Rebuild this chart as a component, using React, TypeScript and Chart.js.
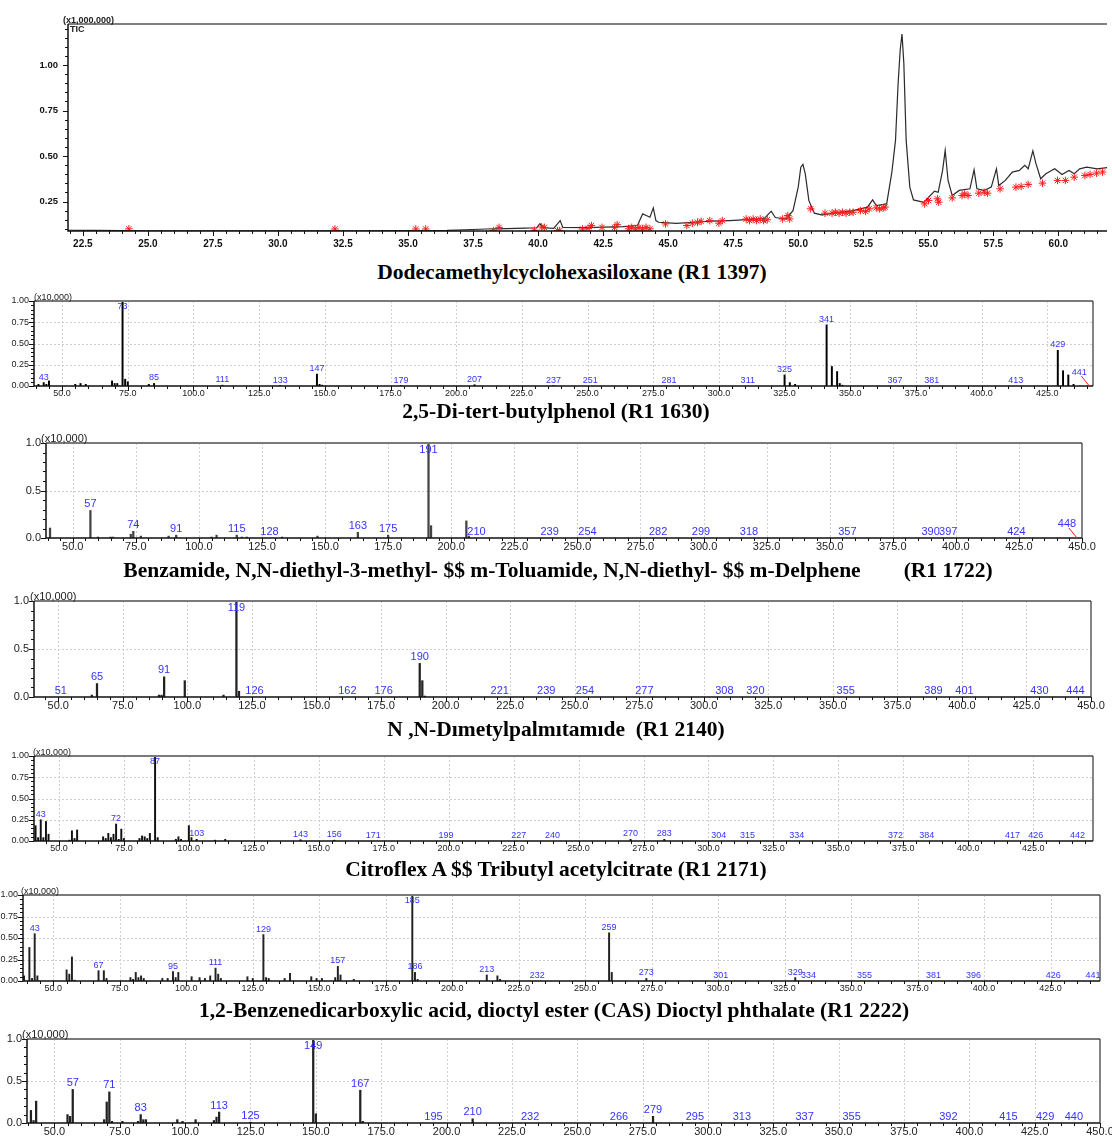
import { useEffect, useRef } from "react";
import { Chart, registerables } from "chart.js";

Chart.register(...registerables);

const W = 1112;

// TIC chromatogram, retention time (min) vs intensity (x1,000,000)
const ticTime = [21.93, 23.0, 24.0, 25.0, 27.0, 29.0, 31.0, 33.0, 35.0, 36.5, 37.2, 38.0, 38.8, 39.5, 39.95, 40.07, 40.2, 40.6, 40.85, 40.95, 41.9, 43.27, 43.82, 44.02, 44.16, 44.3, 44.43, 44.53, 44.63, 45.31, 45.99, 46.67, 47.35, 48.03, 48.71, 48.96, 49.12, 49.53, 49.8, 50.0, 50.1, 50.18, 50.27, 50.41, 50.62, 50.89, 51.43, 52.11, 52.66, 52.86, 53.0, 53.4, 53.6, 53.74, 53.84, 53.92, 53.99, 54.06, 54.15, 54.29, 54.43, 54.83, 55.24, 55.38, 55.55, 55.65, 55.76, 55.92, 56.19, 56.6, 56.76, 56.87, 57.14, 57.42, 57.62, 57.71, 57.96, 58.23, 58.5, 58.71, 58.84, 59.02, 59.14, 59.32, 59.52, 59.86, 60.14, 60.41, 60.61, 60.82, 61.09, 61.5, 61.87];
const ticInt = [0.092, 0.091, 0.09, 0.089, 0.089, 0.089, 0.089, 0.089, 0.09, 0.091, 0.095, 0.099, 0.101, 0.104, 0.106, 0.128, 0.106, 0.103, 0.145, 0.108, 0.107, 0.112, 0.118, 0.182, 0.173, 0.164, 0.215, 0.145, 0.136, 0.13, 0.136, 0.142, 0.145, 0.15, 0.158, 0.197, 0.162, 0.154, 0.2, 0.329, 0.439, 0.454, 0.403, 0.255, 0.186, 0.177, 0.186, 0.2, 0.219, 0.259, 0.228, 0.237, 0.412, 0.586, 0.899, 1.083, 1.171, 1.011, 0.586, 0.329, 0.259, 0.246, 0.307, 0.301, 0.421, 0.531, 0.366, 0.283, 0.311, 0.32, 0.424, 0.32, 0.311, 0.329, 0.43, 0.338, 0.366, 0.412, 0.421, 0.449, 0.43, 0.528, 0.458, 0.375, 0.403, 0.43, 0.399, 0.421, 0.403, 0.43, 0.439, 0.43, 0.436];
const ticMarkTime = [24.27, 32.19, 35.3, 35.68, 38.29, 38.5, 39.86, 40.14, 40.24, 40.75, 40.83, 41.71, 41.92, 42.05, 42.46, 42.94, 43.04, 43.48, 43.6, 43.75, 43.88, 44.02, 44.15, 44.3, 44.9, 45.72, 45.93, 46.13, 46.27, 46.6, 46.95, 47.08, 48.0, 48.13, 48.27, 48.4, 48.54, 48.67, 48.81, 49.4, 49.6, 49.67, 50.48, 51.03, 51.3, 51.43, 51.57, 51.7, 51.84, 51.98, 52.11, 52.39, 52.59, 52.73, 53.0, 53.13, 53.27, 53.34, 54.86, 55.01, 55.35, 55.4, 55.92, 56.3, 56.4, 56.53, 56.94, 57.15, 57.28, 57.76, 58.37, 58.57, 58.84, 59.39, 59.97, 60.27, 60.61, 61.02, 61.22, 61.47, 61.7];
const ticMarkInt = [0.1, 0.099, 0.099, 0.099, 0.09, 0.108, 0.092, 0.11, 0.108, 0.09, 0.09, 0.099, 0.103, 0.118, 0.108, 0.108, 0.123, 0.1, 0.108, 0.1, 0.108, 0.1, 0.108, 0.1, 0.127, 0.118, 0.131, 0.136, 0.141, 0.145, 0.131, 0.145, 0.154, 0.145, 0.154, 0.145, 0.154, 0.145, 0.15, 0.154, 0.173, 0.154, 0.21, 0.186, 0.186, 0.191, 0.186, 0.191, 0.186, 0.191, 0.191, 0.2, 0.196, 0.21, 0.215, 0.21, 0.215, 0.22, 0.237, 0.256, 0.265, 0.246, 0.27, 0.283, 0.292, 0.283, 0.296, 0.301, 0.296, 0.32, 0.329, 0.333, 0.344, 0.351, 0.366, 0.366, 0.384, 0.393, 0.399, 0.406, 0.412];
const ticXTicks = [22.5, 25.0, 27.5, 30.0, 32.5, 35.0, 37.5, 40.0, 42.5, 45.0, 47.5, 50.0, 52.5, 55.0, 57.5, 60.0];
const ticYTicks = [0.25, 0.5, 0.75, 1.0];

// mass spectra, m/z vs intensity (x10,000)
const mzTicks = [50, 75, 100, 125, 150, 175, 200, 225, 250, 275, 300, 325, 350, 375, 400, 425, 450];
const yTicksQuarter = [0, 0.25, 0.5, 0.75, 1.0];
const yTicksHalf = [0, 0.5, 1.0];

const spec1Mz = [41, 43, 44, 45, 55, 57, 59, 69, 70, 71, 73, 74, 75, 83, 85, 111, 133, 147, 148, 149, 179, 207, 237, 325, 327, 329, 341, 343, 345, 346, 347, 429, 431, 433, 435];
const spec1Int = [0.02, 0.04, 0.02, 0.06, 0.02, 0.03, 0.02, 0.06, 0.03, 0.03, 1.0, 0.08, 0.05, 0.02, 0.03, 0.01, 0.005, 0.14, 0.02, 0.01, 0.005, 0.015, 0.005, 0.13, 0.04, 0.02, 0.72, 0.23, 0.17, 0.03, 0.01, 0.42, 0.18, 0.13, 0.02];
const spec1Labels = [43, 73, 85, 111, 133, 147, 179, 207, 237, 251, 281, 311, 325, 341, 367, 381, 413, 429, 441];

const spec2Mz = [41, 57, 60, 65, 66, 73, 74, 77, 88, 91, 105, 107, 115, 117, 119, 133, 147, 163, 175, 191, 192, 206, 207];
const spec2Int = [0.105, 0.29, 0.01, 0.01, 0.01, 0.04, 0.07, 0.02, 0.02, 0.03, 0.01, 0.03, 0.03, 0.01, 0.01, 0.01, 0.02, 0.06, 0.03, 1.0, 0.13, 0.18, 0.02];
const spec2Labels = [57, 74, 91, 115, 128, 163, 175, 191, 210, 239, 254, 282, 299, 318, 357, 390, 397, 424, 448];

const spec3Mz = [63, 65, 89, 90, 91, 99, 114, 119, 120, 190, 191, 192];
const spec3Int = [0.02, 0.14, 0.02, 0.02, 0.21, 0.17, 0.02, 1.0, 0.06, 0.35, 0.17, 0.01];
const spec3Labels = [51, 65, 91, 119, 126, 162, 176, 190, 221, 239, 254, 277, 308, 320, 355, 389, 401, 430, 444];

const spec4Mz = [41, 42, 43, 44, 45, 46, 54, 55, 56, 57, 67, 68, 69, 70, 71, 72, 73, 74, 75, 81, 82, 83, 84, 85, 87, 88, 95, 96, 97, 100, 101, 103, 110, 114, 143, 156, 270, 283];
const spec4Int = [0.18, 0.04, 0.25, 0.04, 0.23, 0.08, 0.01, 0.12, 0.03, 0.13, 0.05, 0.03, 0.09, 0.04, 0.08, 0.2, 0.02, 0.14, 0.03, 0.03, 0.06, 0.05, 0.03, 0.09, 1.0, 0.04, 0.02, 0.05, 0.02, 0.18, 0.04, 0.02, 0.01, 0.02, 0.015, 0.01, 0.02, 0.02];
const spec4Labels = [43, 72, 87, 103, 143, 156, 171, 199, 227, 240, 270, 283, 304, 315, 334, 372, 384, 417, 426, 442];

const spec5Mz = [39, 41, 42, 43, 44, 55, 56, 57, 58, 67, 69, 70, 79, 80, 81, 82, 83, 84, 91, 93, 95, 96, 97, 102, 105, 107, 109, 111, 112, 113, 123, 125, 129, 130, 131, 137, 139, 147, 149, 151, 156, 157, 158, 163, 185, 186, 187, 213, 217, 218, 259, 260, 273, 329];
const spec5Int = [0.06, 0.39, 0.03, 0.55, 0.06, 0.13, 0.08, 0.28, 0.01, 0.12, 0.12, 0.03, 0.04, 0.02, 0.1, 0.04, 0.06, 0.03, 0.03, 0.03, 0.11, 0.04, 0.1, 0.05, 0.04, 0.03, 0.06, 0.15, 0.08, 0.03, 0.05, 0.03, 0.54, 0.04, 0.03, 0.03, 0.09, 0.05, 0.03, 0.03, 0.04, 0.17, 0.07, 0.02, 1.0, 0.1, 0.02, 0.07, 0.06, 0.02, 0.56, 0.1, 0.03, 0.04];
const spec5Labels = [43, 67, 95, 111, 129, 157, 185, 186, 213, 232, 259, 273, 301, 329, 334, 355, 381, 396, 426, 441];

const spec6Mz = [41, 42, 43, 55, 56, 57, 69, 70, 71, 72, 76, 82, 83, 84, 85, 97, 99, 104, 111, 112, 113, 125, 149, 150, 167, 168, 210, 279];
const spec6Int = [0.15, 0.03, 0.26, 0.1, 0.08, 0.4, 0.04, 0.25, 0.37, 0.02, 0.02, 0.02, 0.1, 0.04, 0.04, 0.04, 0.02, 0.04, 0.03, 0.07, 0.13, 0.01, 1.0, 0.11, 0.39, 0.02, 0.05, 0.08];
const spec6Labels = [57, 71, 83, 113, 125, 149, 167, 195, 210, 232, 266, 279, 295, 313, 337, 355, 392, 415, 429, 440];

const title1 = "Dodecamethylcyclohexasiloxane (R1 1397)";
const title2 = "2,5-Di-tert-butylphenol (R1 1630)";
const title3 = "Benzamide, N,N-diethyl-3-methyl- $$ m-Toluamide, N,N-diethyl- $$ m-Delphene        (R1 1722)";
const title4 = "N ,N-Dımetylpalmıtamıde  (R1 2140)";
const title5 = "Citroflex A $$ Tributyl acetylcitrate (R1 2171)";
const title6 = "1,2-Benzenedicarboxylic acid, dioctyl ester (CAS) Dioctyl phthalate (R1 2222)";

const FONT = "Arial, 'Liberation Sans', sans-serif";

// draws grid, tick marks, frame, peak labels and unit text
const decor = {
  id: "decor",
  beforeDatasetsDraw(chart: any, _a: any, o: any) {
    if (!o.grid) return;
    const { ctx, chartArea: a, scales } = chart;
    const x = scales.x, y = scales.y;
    ctx.save();
    ctx.strokeStyle = "#cfcfcf";
    ctx.lineWidth = 1;
    ctx.setLineDash([2, 2]);
    ctx.beginPath();
    o.xTicks.forEach((v: number) => {
      if (v <= x.min || v >= x.max - 0.5) return;
      const px = Math.round(x.getPixelForValue(v)) + 0.5;
      ctx.moveTo(px, a.top);
      ctx.lineTo(px, a.bottom);
    });
    o.yTicks.forEach((v: number) => {
      if (v <= y.min || v >= y.max) return;
      const py = Math.round(y.getPixelForValue(v)) + 0.5;
      ctx.moveTo(a.left, py);
      ctx.lineTo(a.right, py);
    });
    ctx.stroke();
    ctx.restore();
  },
  afterDatasetsDraw(chart: any, _a: any, o: any) {
    const { ctx, chartArea: a, scales } = chart;
    const x = scales.x, y = scales.y;
    ctx.save();
    // tick marks
    ctx.strokeStyle = "#111";
    ctx.lineWidth = 1;
    ctx.beginPath();
    for (let k = Math.ceil(x.min / o.xMinor - 1e-6); k * o.xMinor <= x.max + 1e-6; k++) {
      const v = k * o.xMinor;
      const major = o.xTicks.some((t: number) => Math.abs(t - v) < o.xMinor / 10);
      const px = Math.round(x.getPixelForValue(v)) + 0.5;
      ctx.moveTo(px, a.bottom);
      ctx.lineTo(px, a.bottom + (major ? 5 : 3));
    }
    for (let k = Math.ceil(y.min / o.yMinor - 1e-6); k * o.yMinor <= y.max + 1e-6; k++) {
      const v = k * o.yMinor;
      const major = o.yTicks.some((t: number) => Math.abs(t - v) < o.yMinor / 10);
      const py = Math.round(y.getPixelForValue(v)) + 0.5;
      ctx.moveTo(a.left, py);
      ctx.lineTo(a.left - (major ? 5 : 3), py);
    }
    ctx.stroke();
    // frame
    ctx.strokeStyle = o.frameColor;
    ctx.lineWidth = o.frameWidth;
    ctx.beginPath();
    ctx.moveTo(a.left, a.top);
    ctx.lineTo(a.right, a.top);
    ctx.stroke();
    if (o.rightFrame) {
      ctx.strokeStyle = "#333";
      ctx.lineWidth = 1.2;
      ctx.beginPath();
      ctx.moveTo(a.right, a.top);
      ctx.lineTo(a.right, a.bottom);
      ctx.stroke();
    }
    // axes
    ctx.strokeStyle = "#111";
    ctx.lineWidth = 1.5;
    ctx.beginPath();
    ctx.moveTo(a.left, a.top);
    ctx.lineTo(a.left, a.bottom);
    ctx.lineTo(a.right, a.bottom);
    ctx.stroke();
    // peak labels
    if (o.peaks) {
      const fs = o.peakFont;
      ctx.font = `${fs}px ${FONT}`;
      ctx.textAlign = "center";
      ctx.textBaseline = "bottom";
      o.peaks.labels.forEach((m: number) => {
        const i = o.peaks.mz.indexOf(m);
        const val = i >= 0 ? o.peaks.inten[i] : 0;
        const px = x.getPixelForValue(m);
        ctx.fillStyle = "#3333ff";
        if (m === o.leader) {
          const lx = px - 10, ly = a.bottom - 9;
          ctx.fillText(String(m), lx, ly);
          ctx.strokeStyle = "#ff1a1a";
          ctx.lineWidth = 1;
          ctx.beginPath();
          ctx.moveTo(lx + 2, ly - 1);
          ctx.lineTo(px, a.bottom);
          ctx.stroke();
          return;
        }
        const py = Math.max(y.getPixelForValue(val) - 1, a.top + fs + 1);
        ctx.fillText(String(m), px, py);
      });
    }
    // unit text
    ctx.fillStyle = "#222";
    ctx.font = `${o.unitBold ? "bold " : ""}${o.unitFont}px ${FONT}`;
    ctx.textAlign = "left";
    ctx.textBaseline = "bottom";
    ctx.fillText(o.unit, o.unitX, a.top + 1);
    if (o.tag) {
      ctx.textBaseline = "top";
      ctx.fillText(o.tag, a.left + 2, a.top + 1);
    }
    ctx.restore();
  },
};

const ticConfig = (): any => {
  const top = 0, height = 258, left = 68, areaTop = 24, areaBottom = 231;
  return {
    type: "line",
    data: {
      datasets: [
        {
          data: ticMarkTime.map((t, i) => ({ x: t, y: ticMarkInt[i] })),
          showLine: false,
          pointStyle: "star",
          pointRadius: 3.8,
          pointBorderWidth: 1,
          borderColor: "#ff1a1a",
          backgroundColor: "#ff1a1a",
        },
        {
          data: ticTime.map((t, i) => ({ x: t, y: ticInt[i] })),
          borderColor: "#2a2a2a",
          borderWidth: 1.2,
          pointRadius: 0,
          tension: 0,
          fill: false,
        },
      ],
    },
    options: {
      animation: false,
      responsive: false,
      events: [],
      layout: { padding: { top: areaTop - top, right: 0, left: 0, bottom: 0 } },
      plugins: {
        legend: { display: false },
        tooltip: { enabled: false },
        decor: {
          grid: false,
          xTicks: ticXTicks,
          yTicks: ticYTicks,
          xMinor: 0.5,
          yMinor: 0.05,
          frameColor: "#555",
          frameWidth: 1.5,
          rightFrame: false,
          unit: "(x1,000,000)",
          unitX: 63,
          unitFont: 9,
          unitBold: true,
          tag: "TIC",
        },
      },
      scales: {
        x: {
          type: "linear",
          min: 21.93,
          max: 61.87,
          grid: { display: false, drawTicks: false },
          border: { display: false },
          afterBuildTicks: (s: any) => {
            s.ticks = ticXTicks.map((v) => ({ value: v }));
          },
          afterFit: (s: any) => {
            s.height = top + height - areaBottom;
            s.paddingLeft = 0;
            s.paddingRight = 0;
          },
          ticks: {
            autoSkip: false,
            maxRotation: 0,
            padding: 7,
            color: "#111",
            font: { family: FONT, size: 10, weight: "bold" },
            callback: (v: any) => Number(v).toFixed(1),
          },
        },
        y: {
          min: 0.088,
          max: 1.226,
          grid: { display: false, drawTicks: false },
          border: { display: false },
          afterBuildTicks: (s: any) => {
            s.ticks = ticYTicks.map((v) => ({ value: v }));
          },
          afterFit: (s: any) => {
            s.width = left;
            s.paddingTop = 0;
            s.paddingBottom = 0;
          },
          ticks: {
            padding: 10,
            color: "#111",
            font: { family: FONT, size: 9.5, weight: "bold" },
            callback: (v: any) => Number(v).toFixed(2),
          },
        },
      },
    },
    plugins: [decor],
  };
};

type SpecLayout = {
  top: number;
  height: number;
  left: number;
  right: number;
  areaTop: number;
  areaBottom: number;
  xMin: number;
  xMax: number;
  big: boolean;
  unitX: number;
  barColor: string;
  leader?: number;
};

const spectrumConfig = (mz: number[], inten: number[], labels: number[], yTicks: number[], L: SpecLayout): any => {
  const quarter = yTicks.length > 3;
  const fs = L.big ? 11 : 9;
  return {
    type: "bar",
    data: {
      datasets: [
        {
          data: mz.map((m, i) => ({ x: m, y: inten[i] })),
          backgroundColor: L.barColor,
          barThickness: L.big ? 1.6 : 1.3,
          borderWidth: 0,
        },
      ],
    },
    options: {
      animation: false,
      responsive: false,
      events: [],
      layout: { padding: { top: L.areaTop - L.top, right: W - L.right, left: 0, bottom: 0 } },
      plugins: {
        legend: { display: false },
        tooltip: { enabled: false },
        decor: {
          grid: true,
          xTicks: mzTicks,
          yTicks,
          xMinor: 5,
          yMinor: quarter ? 0.05 : 0.1,
          frameColor: "#7a7a7a",
          frameWidth: 2,
          rightFrame: true,
          unit: "(x10,000)",
          unitX: L.unitX,
          unitFont: L.big ? 11 : 9,
          unitBold: false,
          peaks: { mz, inten, labels },
          peakFont: L.big ? 11 : 9,
          leader: L.leader,
        },
      },
      scales: {
        x: {
          type: "linear",
          min: L.xMin,
          max: L.xMax,
          offset: false,
          grid: { display: false, drawTicks: false, offset: false },
          border: { display: false },
          afterBuildTicks: (s: any) => {
            s.ticks = mzTicks.filter((v) => v >= L.xMin && v <= L.xMax).map((v) => ({ value: v }));
          },
          afterFit: (s: any) => {
            s.height = L.top + L.height - L.areaBottom;
            s.paddingLeft = 0;
            s.paddingRight = 0;
          },
          ticks: {
            autoSkip: false,
            maxRotation: 0,
            padding: 2,
            color: "#222",
            font: { family: FONT, size: fs },
            callback: (v: any) => Number(v).toFixed(1),
          },
        },
        y: {
          min: 0,
          max: 1,
          grid: { display: false, drawTicks: false },
          border: { display: false },
          afterBuildTicks: (s: any) => {
            s.ticks = yTicks.map((v) => ({ value: v }));
          },
          afterFit: (s: any) => {
            s.width = L.left;
            s.paddingTop = 0;
            s.paddingBottom = 0;
          },
          ticks: {
            padding: 5,
            color: "#222",
            font: { family: FONT, size: fs },
            callback: (v: any) => Number(v).toFixed(quarter ? 2 : 1),
          },
        },
      },
    },
    plugins: [decor],
  };
};

const ChartCanvas = ({ top, height, build }: { top: number; height: number; build: () => any }) => {
  const ref = useRef<HTMLCanvasElement>(null);
  useEffect(() => {
    if (!ref.current) return;
    const chart = new Chart(ref.current, build());
    return () => chart.destroy();
  }, []);
  return (
    <canvas
      ref={ref}
      width={W}
      height={height}
      style={{ position: "absolute", left: 0, top, width: W, height }}
    />
  );
};

const Title = ({ text, cy, cx }: { text: string; cy: number; cx: number }) => (
  <div
    style={{
      position: "absolute",
      top: cy - 13,
      left: cx - W / 2,
      width: W,
      lineHeight: "26px",
      textAlign: "center",
      whiteSpace: "pre",
      fontFamily: "'Liberation Serif', 'Times New Roman', serif",
      fontWeight: "bold",
      fontSize: 21.5,
      color: "#000",
    }}
  >
    {text}
  </div>
);

const L1: SpecLayout = { top: 290, height: 110, left: 34, right: 1093, areaTop: 301, areaBottom: 386, xMin: 39.3, xMax: 442.4, big: false, unitX: 34, barColor: "#000", leader: 441 };
const L2: SpecLayout = { top: 430, height: 125, left: 46, right: 1082, areaTop: 443, areaBottom: 538, xMin: 39.4, xMax: 450, big: true, unitX: 41, barColor: "#444", leader: 448 };
const L3: SpecLayout = { top: 590, height: 125, left: 34, right: 1091, areaTop: 601, areaBottom: 697, xMin: 40.6, xMax: 450, big: true, unitX: 30, barColor: "#222" };
const L4: SpecLayout = { top: 745, height: 110, left: 34, right: 1093, areaTop: 756, areaBottom: 841, xMin: 40.4, xMax: 448, big: false, unitX: 33, barColor: "#111" };
const L5: SpecLayout = { top: 885, height: 112, left: 23, right: 1100, areaTop: 895, areaBottom: 981, xMin: 38.6, xMax: 443.6, big: false, unitX: 21, barColor: "#222" };
const L6: SpecLayout = { top: 1027, height: 110, left: 27, right: 1100, areaTop: 1039, areaBottom: 1123, xMin: 39.5, xMax: 450, big: true, unitX: 22, barColor: "#222" };

export default function App() {
  return (
    <div style={{ position: "absolute", left: 0, top: 0, width: W, height: 1137, background: "#fff", overflow: "hidden" }}>
      <ChartCanvas top={0} height={258} build={ticConfig} />
      <Title text={title1} cy={272} cx={572} />
      <ChartCanvas top={L1.top} height={L1.height} build={() => spectrumConfig(spec1Mz, spec1Int, spec1Labels, yTicksQuarter, L1)} />
      <Title text={title2} cy={411} cx={556} />
      <ChartCanvas top={L2.top} height={L2.height} build={() => spectrumConfig(spec2Mz, spec2Int, spec2Labels, yTicksHalf, L2)} />
      <Title text={title3} cy={570} cx={558} />
      <ChartCanvas top={L3.top} height={L3.height} build={() => spectrumConfig(spec3Mz, spec3Int, spec3Labels, yTicksHalf, L3)} />
      <Title text={title4} cy={729} cx={556} />
      <ChartCanvas top={L4.top} height={L4.height} build={() => spectrumConfig(spec4Mz, spec4Int, spec4Labels, yTicksQuarter, L4)} />
      <Title text={title5} cy={869} cx={556} />
      <ChartCanvas top={L5.top} height={L5.height} build={() => spectrumConfig(spec5Mz, spec5Int, spec5Labels, yTicksQuarter, L5)} />
      <Title text={title6} cy={1010} cx={554} />
      <ChartCanvas top={L6.top} height={L6.height} build={() => spectrumConfig(spec6Mz, spec6Int, spec6Labels, yTicksHalf, L6)} />
    </div>
  );
}
